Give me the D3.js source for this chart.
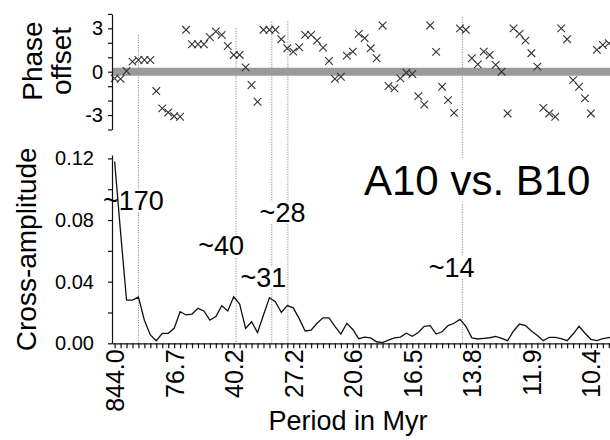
<!DOCTYPE html>
<html>
<head>
<meta charset="utf-8">
<script src="https://cdn.jsdelivr.net/npm/d3@7"></script>
<style>
  body { margin: 0; background: #fff; }
  svg { display: block; font-family: "Liberation Sans", Arial, sans-serif; }
</style>
</head>
<body>
<div id="vis"></div>
<script>
// phase offset per frequency step (index 1..84)
const phase = [
  -0.46, -0.5, 0.05, 0.7, 0.81, 0.81, 0.81, -1.34, -2.54, -2.82,
  -3.08, -3.12, 2.9, 1.9, 1.9, 1.9, 2.39, 2.78, 2.55, 1.78,
  1.16, 1.16, 0.3, -0.92, -2.08, 2.9, 2.9, 2.9, 2.25, 1.62,
  1.39, 1.69, 2.55, 2.55, 2.15, 1.67, 0.74, -0.5, -0.35, 1.11,
  1.39, 2.62, 2.32, 1.62, 0.93, 3.2, -0.99, -1.15, -0.46, -0.07,
  -0.16, -1.69, -2.27, 3.2, 1.37, -1.04, -1.97, -2.85, 3.0, 2.9,
  0.93, 0.51, 1.39, 1.16, 0.47, 0.0, -2.89, 3.0, 2.62, 2.15,
  1.28, 0.35, -2.5, -2.89, -3.12, 3.0, 2.25, -0.58, -1.04, -1.85,
  -2.89, 1.51, 1.85, 1.97
];

// cross-amplitude per frequency step (index 1..85)
const amplitude = [
  0.118, 0.072, 0.028, 0.028, 0.030, 0.015, 0.0054, 0.0017, 0.0065, 0.0065,
  0.0097, 0.0205, 0.0184, 0.019, 0.0227, 0.021, 0.0151, 0.0173, 0.0244, 0.021,
  0.0302, 0.0255, 0.0097, 0.014, 0.0069, 0.0184, 0.0296, 0.027, 0.020, 0.0245,
  0.023, 0.016, 0.008, 0.0085, 0.013, 0.0165, 0.0165, 0.011, 0.006, 0.013,
  0.009, 0.003, 0.004, 0.0035, 0.001, 0.0004, 0.002, 0.0035, 0.004, 0.0065,
  0.0045, 0.007, 0.011, 0.0115, 0.006, 0.0075, 0.0115, 0.013, 0.0155, 0.011,
  0.0035, 0.0028, 0.0032, 0.0036, 0.0045, 0.0032, 0.0017, 0.008, 0.0125, 0.0115,
  0.008, 0.005, 0.0017, 0.0039, 0.0039, 0.003, 0.0017, 0.006, 0.011, 0.0065,
  0.0026, 0.0017, 0.003, 0.0037, 0.004
];

const periodLabels = ["844.0", "76.7", "40.2", "27.2", "20.6", "16.5", "13.8", "11.9", "10.4"];
const periodIndex = [1, 11, 21, 31, 41, 51, 61, 71, 81];

// dotted marker lines: index and top (phase units)
const markIndex = [5, 21.4, 27.4, 30.1, 59.4];
const markTop = [2.55, 3.0, 3.46, 3.46, 3.8];

// annotation labels: text, index, amplitude of baseline
const noteText = ["~170", "~40", "~31", "~28", "~14"];
const noteIndex = [4.14, 18.9, 26.0, 29.2, 57.6];
const noteAmp = [0.0865, 0.0573, 0.0367, 0.0789, 0.0432];

const title = "A10 vs. B10";

const W = 610, H = 440;

const svg = d3.select("#vis").append("svg")
    .attr("width", W)
    .attr("height", H);

const x = d3.scaleLinear().domain([0.56, 84.2]).range([112, W]);
const yPhase = d3.scaleLinear().domain([-4, 4]).range([129.5, 13.9]);
const yAmp = d3.scaleLinear().domain([0, 0.1222]).range([343.3, 155]);

// dotted vertical lines
svg.append("g")
    .selectAll("line")
    .data(markIndex)
    .join("line")
    .attr("x1", d => x(d))
    .attr("x2", d => x(d))
    .attr("y1", (d, i) => yPhase(markTop[i]))
    .attr("y2", yAmp(0))
    .attr("stroke", "#777")
    .attr("stroke-width", 1)
    .attr("stroke-dasharray", "1,1.5");

// zero band in phase panel
svg.append("line")
    .attr("x1", x.range()[0])
    .attr("x2", W)
    .attr("y1", yPhase(0))
    .attr("y2", yPhase(0))
    .attr("stroke", "#9a9a9a")
    .attr("stroke-width", 8);

// phase crosses
svg.append("g")
    .selectAll("path")
    .data(phase)
    .join("path")
    .attr("transform", (d, i) => `translate(${x(i + 1)},${yPhase(d)})`)
    .attr("d", "M-3.8,-3.8L3.8,3.8M-3.8,3.8L3.8,-3.8")
    .attr("stroke", "#333")
    .attr("stroke-width", 1.1)
    .attr("fill", "none");

// annotation labels with white boxes (hide the dotted lines)
const notes = svg.append("g");
noteText.forEach((t, i) => {
    const g = notes.append("g");
    const txt = g.append("text")
        .attr("x", x(noteIndex[i]))
        .attr("y", yAmp(noteAmp[i]))
        .attr("text-anchor", "middle")
        .style("font-size", "27px")
        .attr("fill", "#000")
        .text(t);
    const bb = txt.node().getBBox();
    g.insert("rect", "text")
        .attr("x", bb.x)
        .attr("y", bb.y + 4)
        .attr("width", bb.width)
        .attr("height", bb.height - 8)
        .attr("fill", "#fff");
});

const tg = svg.append("g");
const titleText = tg.append("text")
    .attr("x", x(61.9))
    .attr("y", yAmp(0.0962))
    .attr("text-anchor", "middle")
    .style("font-size", "42px")
    .attr("fill", "#000")
    .text(title);
const tb = titleText.node().getBBox();
tg.insert("rect", "text")
    .attr("x", tb.x)
    .attr("y", tb.y + 2)
    .attr("width", tb.width)
    .attr("height", tb.height - 4)
    .attr("fill", "#fff");

// amplitude line
const line = d3.line()
    .x((d, i) => x(i + 1))
    .y(d => yAmp(d));

svg.append("path")
    .datum(amplitude)
    .attr("d", line)
    .attr("fill", "none")
    .attr("stroke", "#111")
    .attr("stroke-width", 1.3);

// axes
const labelAt = new Map(periodIndex.map((k, i) => [k, periodLabels[i]]));

const xAxis = svg.append("g")
    .attr("transform", `translate(0,${yAmp(0)})`)
    .call(d3.axisBottom(x)
        .tickValues(d3.range(1, 85))
        .tickSize(5)
        .tickSizeOuter(0)
        .tickFormat(d => labelAt.get(d) || ""));
xAxis.selectAll("text")
    .attr("transform", "rotate(-90)")
    .attr("text-anchor", "end")
    .attr("x", -6)
    .attr("y", 0)
    .attr("dy", "0.36em")
    .style("font-size", "25px")
    .attr("fill", "#000");

const ampAxis = svg.append("g")
    .attr("transform", `translate(${x.range()[0]},0)`)
    .call(d3.axisLeft(yAmp)
        .tickValues([0, 0.02, 0.04, 0.06, 0.08, 0.1, 0.12])
        .tickSize(4)
        .tickSizeOuter(0)
        .tickFormat(d => [0, 0.04, 0.08, 0.12].some(v => Math.abs(v - d) < 1e-9) ? d3.format(".2f")(d) : ""));
ampAxis.selectAll("text")
    .attr("x", -18)
    .style("font-size", "20px")
    .attr("fill", "#000");

const phaseAxis = svg.append("g")
    .attr("transform", `translate(${x.range()[0]},0)`)
    .call(d3.axisLeft(yPhase)
        .tickValues(d3.range(-4, 5))
        .tickSize(4)
        .tickSizeOuter(0)
        .tickFormat(d => [3, 0, -3].includes(d) ? String(d) : ""));
phaseAxis.selectAll("text")
    .attr("x", -9)
    .style("font-size", "20px")
    .attr("fill", "#000");

svg.selectAll(".domain, .tick line").attr("stroke", "#111").attr("stroke-width", 1.2);

// axis titles
svg.append("text")
    .attr("transform", "translate(42,61) rotate(-90)")
    .attr("text-anchor", "middle")
    .style("font-size", "28px")
    .attr("fill", "#000")
    .text("Phase");
svg.append("text")
    .attr("transform", "translate(71,61) rotate(-90)")
    .attr("text-anchor", "middle")
    .style("font-size", "28px")
    .attr("fill", "#000")
    .text("offset");
svg.append("text")
    .attr("transform", `translate(36,${yAmp(0.061)}) rotate(-90)`)
    .attr("text-anchor", "middle")
    .style("font-size", "28px")
    .attr("fill", "#000")
    .text("Cross-amplitude");
svg.append("text")
    .attr("x", 348)
    .attr("y", 430)
    .attr("text-anchor", "middle")
    .style("font-size", "27px")
    .attr("fill", "#000")
    .text("Period in Myr");
</script>
</body>
</html>
